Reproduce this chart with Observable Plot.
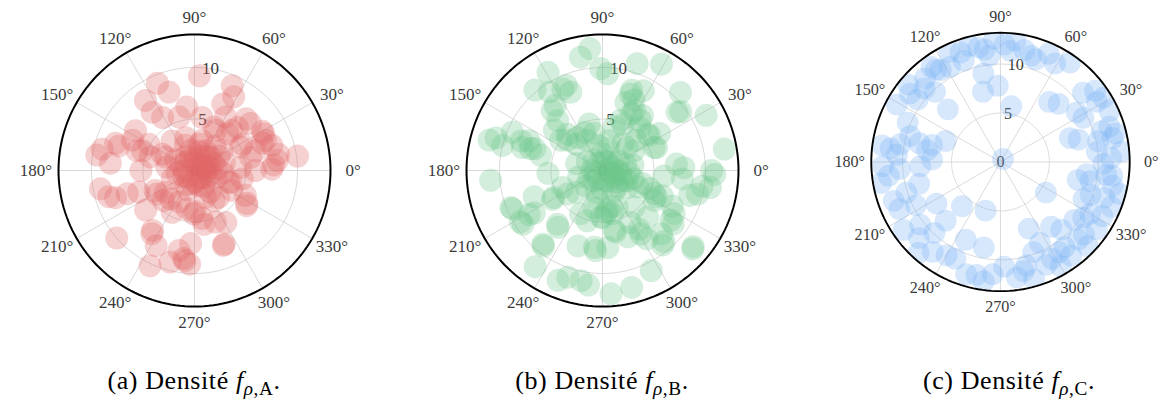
<!DOCTYPE html>
<html><head><meta charset="utf-8">
<script src="https://cdn.jsdelivr.net/npm/d3@7"></script>
<script src="https://cdn.jsdelivr.net/npm/@observablehq/plot@0.6"></script>
<style>
body{margin:0;background:#fff;}
#wrap{position:relative;width:1171px;height:405px;overflow:hidden;background:#fff;}
.panel{position:absolute;top:0;}
.cap{position:absolute;top:366px;width:360px;text-align:center;font-family:'Liberation Serif','DejaVu Serif',serif;font-size:26px;letter-spacing:0.6px;line-height:30px;color:#000;}
.cap sub{font-size:0.74em;vertical-align:-0.32em;line-height:0;}
</style></head><body><div id="wrap"></div>
<script>
// ---- data (angle in degrees, radius) ----
const thetaA = [87,113,108,66,62,125,126,97,67,60,121,106,82,45,40,62,47,30,23,146,154,167,161,171,150,127,105,76,29,18,11,8,18,159,155,175,162,161,180,163,153,173,7,4,22,28,13,27,48,45,66,36,4,350,0,1,191,199,199,201,219,207,217,230,244,259,271,292,306,312,341,332,326,301,221,235,243,245,255,259,267,263,267,292,292,279,242,197,212,224,269,303,342,328,334,280,236,264,291,0,45,90,135,180,225,270,315,20,60,100,150,200,250,300,340,10,70,120,30,80,355,330,240,190,15,50,110,0,285,
  30,60,20,75,40,5,345,300,260,210,160,115,50,10,85];
const rA = [9.2,9.2,8.0,9.0,8.1,8.3,7.0,6.2,7.0,6.0,6.0,5.4,5.2,7.1,7.1,4.4,5.3,7.6,7.5,6.9,6.7,9.2,8.1,9.6,5.1,3.6,3.3,3.0,5.3,6.2,8.3,10.1,7.9,5.4,3.1,8.2,7.7,5.9,5.2,4.5,3.5,2.7,8.1,7.7,7.1,7.6,5.6,5.0,4.8,5.9,4.6,3.3,4.5,4.7,5.9,7.5,9.3,8.1,6.9,5.8,6.1,4.3,3.5,3.6,3.4,3.8,4.0,2.8,2.6,3.5,3.5,4.1,6.1,5.9,10.0,7.1,8.2,10.2,9.2,7.9,7.1,8.6,9.1,7.7,5.4,4.7,4.6,8.7,4.3,4.2,4.2,3.5,3.7,6.0,5.5,5.3,7.4,8.8,7.8,0.5,1.0,0.8,1.2,1.0,0.9,1.1,1.0,2.0,2.2,2.0,2.1,2.3,2.0,1.8,2.2,1.5,1.5,1.6,2.8,2.6,2.8,1.4,1.6,1.7,3.0,3.1,2.6,1.2,1.5,
  1.0,0.6,1.3,1.9,2.0,2.2,1.6,0.8,1.3,1.2,1.4,1.1,1.8,0.9,1.2];

const thetaB = [96,101,91,87,72,61,119,130,124,113,126,132,70,63,71,62,54,45,37,28,10,358,163,165,157,158,164,162,140,139,135,115,106,66,49,37,23,42,53,77,5,351,2,355,346,33,24,38,116,112,130,166,160,163,166,183,185,144,134,127,117,103,75,70,63,66,70,53,39,43,32,
  350,338,335,330,336,329,324,313,311,320,296,284,274,263,259,252,248,235,231,212,202,211,201,230,209,203,214,243,253,264,274,252,277,283,292,268,257,281,311,301,314,291,203,214,212,232,232,210,265,309,319,323,303,302,337,333,344,351,354,0,339,334,342,345,334,275,223,220,298,282,270,285,
  0,60,120,180,240,300,30,90,150,210,270,330,15,75,195,255,315,350,100,165,
  0,20,340,320,300,40,80,130,200,230,280,355,325,10,260];
const rB = [11.9,11.2,9.9,9.4,10.9,11.8,10.9,10.2,9.2,9.0,7.8,6.5,8.3,8.7,7.0,6.6,6.6,10.7,9.5,11.4,12.0,10.9,10.8,11.4,9.5,7.7,8.1,6.9,6.1,4.5,3.6,4.1,4.7,4.9,5.5,5.7,5.7,4.4,3.3,3.0,7.2,10.6,7.9,6.0,9.5,6.6,5.5,9.2,8.8,8.2,7.6,10.0,8.4,7.3,6.2,5.3,10.9,5.0,4.9,4.0,3.3,3.7,4.4,5.2,6.2,7.5,7.9,6.1,5.6,3.3,3.6,
  1.8,2.6,3.8,5.8,5.5,8.1,8.2,8.4,9.1,11.5,10.8,11.7,12.0,11.2,10.9,10.9,11.5,11.4,9.2,9.4,9.6,8.3,7.1,6.8,5.4,4.2,4.1,4.7,5.1,7.5,7.5,7.7,3.9,4.3,3.8,4.5,3.7,5.9,4.7,7.2,6.3,6.9,9.5,9.3,7.8,9.3,7.0,5.6,7.8,9.3,11.6,8.6,7.9,6.7,6.3,7.6,8.8,9.8,7.8,10.6,4.9,5.8,4.1,3.1,2.2,4.1,2.2,3.3,5.7,6.1,4.6,3.6,
  0.5,1.0,0.8,1.0,0.9,1.2,1.8,1.6,1.7,1.5,1.8,1.3,2.3,2.2,2.4,2.2,2.1,1.0,2.5,2.6,
  1.5,1.0,0.8,1.8,2.3,1.2,0.9,1.3,0.7,1.3,1.0,2.6,2.9,3.0,2.8];

const thetaC = [98,96,101,88,85,78,74,71,66,61,110,110,118,123,126,132,136,133,135,101,104,92,79,143,143,151,157,164,172,173,170,176,167,166,159,171,50,51,45,33,28,37,32,32,19,16,17,18,14,12,12,2,6,
  187,182,184,200,205,195,183,178,207,213,227,218,223,227,229,246,253,259,233,240,245,253,266,272,278,282,284,293,296,290,294,298,326,308,312,322,307,303,307,326,330,332,319,315,336,340,341,352,348,353,348,353,359,347,
  105,115,93,83,125,140,190,215,228,258,286,300,316,325,338,345,5,25,40,55,198,262];
const rC = [11.6,10.9,11.9,12.0,11.4,11.7,11.3,11.1,12.1,11.5,11.9,11.0,11.0,11.2,12.0,11.5,10.8,9.8,7.6,9.2,7.4,7.8,5.8,11.6,10.6,12.1,10.3,9.6,12.2,11.3,10.4,10.6,8.5,7.2,6.0,7.6,0.4,7.9,8.4,9.3,9.6,12.1,12.4,11.6,7.5,8.3,10.8,11.7,12.1,10.2,11.7,11.3,9.9,
  11.5,12.0,10.3,11.6,11.4,8.6,8.2,7.0,9.7,7.8,8.2,10.4,11.4,9.9,6.0,8.7,5.2,8.9,11.5,11.0,10.9,12.0,11.5,10.7,11.9,11.4,10.9,7.4,9.2,9.8,11.5,11.2,5.6,8.4,9.3,9.6,10.9,11.0,12.0,10.2,10.6,11.8,11.3,11.2,9.3,9.8,11.2,8.9,9.4,10.9,11.7,11.5,10.5,8.1,
  12.3,12.4,12.6,12.5,11.5,12.3,12.4,12.1,12.5,11.8,12.5,12.3,12.4,12.0,12.2,12.6,12.4,12.3,11.0,12.4,10.1,12.3];

const angleTicks = [0,30,60,90,120,150,180,210,240,270,300,330];
const ringTicks = [0,5,10];
const panelLetters = ["a","b","c"];
const panelSubs = ["A","B","C"];
const panelColors = ["#e26666","#6cc68a","#7ab2f5"];

// ---- drawing ----
const rMax = 13.2;
const rad = d => d * Math.PI / 180;
const px = (r, a) => r * Math.cos(rad(a));
const py = (r, a) => r * Math.sin(rad(a));
const fontFam = "'Liberation Serif', 'DejaVu Serif', serif";
const wrap = document.getElementById("wrap");
const lefts = [14, 422, 829];
const series = [[thetaA, rA], [thetaB, rB], [thetaC, rC]];
const svgNS = "http://www.w3.org/2000/svg";

series.forEach(([th, rr], k) => {
  const n = Math.min(th.length, rr.length);
  const pts = d3.range(n).map(i => ({t: th[i], r: rr[i]}));
  const ringPts = radius => d3.range(0, 361, 2).map(a => ({a, radius}));
  const rings = ringTicks.filter(v => v > 0).flatMap(ringPts);
  const outer = ringPts(rMax);
  const plot = Plot.plot({
    width: 360, height: 340,
    marginLeft: 44, marginRight: 44, marginTop: 34, marginBottom: 34,
    x: {domain: [-rMax, rMax], axis: null},
    y: {domain: [-rMax, rMax], axis: null},
    style: {background: "transparent", overflow: "visible", fontFamily: fontFam},
    marks: [
      Plot.link(angleTicks, {x1: 0, y1: 0, x2: a => px(rMax, a), y2: a => py(rMax, a), stroke: "#d9d9d9", strokeWidth: 1}),
      Plot.line(rings, {x: d => px(d.radius, d.a), y: d => py(d.radius, d.a), z: "radius", stroke: "#d9d9d9", strokeWidth: 1}),
      Plot.text(ringTicks, {x: v => px(v, 81), y: v => py(v, 81), text: v => String(v), fontSize: 17, fontFamily: fontFam, fill: "#3a3a3a"}),
      Plot.dot(pts, {x: d => px(d.r, d.t), y: d => py(d.r, d.t), r: 11.5, fill: panelColors[k], fillOpacity: 0.3, stroke: "none"}),
      Plot.line(outer, {x: d => px(d.radius, d.a), y: d => py(d.radius, d.a), stroke: "#000", strokeWidth: 2}),
      Plot.text(angleTicks, {x: a => px(15.4, a), y: a => py(14.8, a), text: a => a + "°", fontSize: 17, fontFamily: fontFam, fill: "#3a3a3a"})
    ]
  });
  // clip the dots to the polar disc
  const xs = plot.scale("x"), ys = plot.scale("y");
  const cx = xs.apply(0), cy = ys.apply(0), R = xs.apply(rMax) - cx;
  const defs = document.createElementNS(svgNS, "defs");
  const cp = document.createElementNS(svgNS, "clipPath");
  cp.setAttribute("id", "clip" + k);
  const c = document.createElementNS(svgNS, "circle");
  c.setAttribute("cx", cx); c.setAttribute("cy", cy); c.setAttribute("r", R);
  cp.appendChild(c); defs.appendChild(cp);
  plot.insertBefore(defs, plot.firstChild);
  const g = plot.querySelector('g[aria-label="dot"]');
  if (g) g.setAttribute("clip-path", `url(#clip${k})`);
  const holder = document.createElement("div");
  holder.className = "panel";
  holder.style.left = lefts[k] + "px";
  holder.appendChild(plot);
  wrap.appendChild(holder);

  const cap = document.createElement("div");
  cap.className = "cap";
  cap.style.left = lefts[k] + "px";
  cap.innerHTML = `(${panelLetters[k]}) Densité <i>f</i><sub><i>ρ</i>,${panelSubs[k]}</sub>.`;
  wrap.appendChild(cap);
});
</script></body></html>
